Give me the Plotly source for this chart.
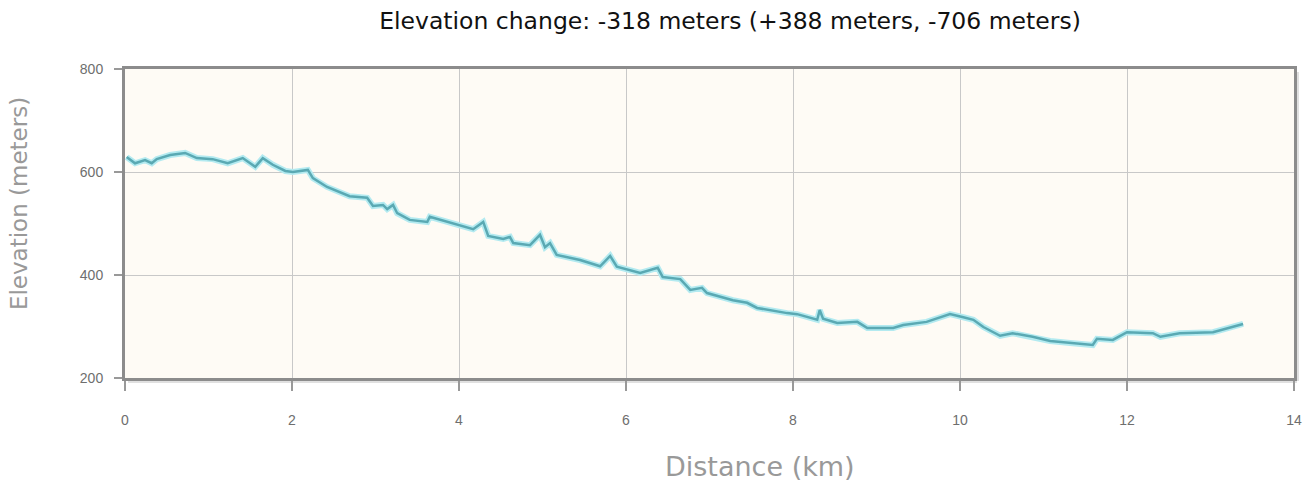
import plotly.graph_objects as go

distance_km = [0.02, 0.12, 0.24, 0.32, 0.38, 0.54, 0.72, 0.86, 1.05, 1.23, 1.41, 1.56, 1.65, 1.77, 1.92,
               2.01, 2.19, 2.25, 2.42, 2.69, 2.90, 2.97, 3.09, 3.14, 3.21, 3.26, 3.41, 3.62, 3.65, 3.99,
               4.17, 4.29, 4.35, 4.53, 4.61, 4.65, 4.85, 4.97, 5.03, 5.09, 5.17, 5.45, 5.69, 5.81, 5.89,
               6.17, 6.38, 6.44, 6.65, 6.77, 6.91, 6.97, 7.13, 7.28, 7.45, 7.57, 7.93, 8.05, 8.29, 8.32,
               8.36, 8.53, 8.77, 8.89, 9.20, 9.32, 9.60, 9.88, 10.04, 10.16, 10.28, 10.48, 10.63, 10.87,
               11.08, 11.32, 11.59, 11.64, 11.83, 12.00, 12.31, 12.40, 12.63, 13.03, 13.27, 13.39]
elevation_m = [629, 617, 623, 617, 625, 633, 637, 627, 625, 617, 627, 610, 627, 614, 602,
               600, 604, 588, 571, 553, 550, 534, 536, 528, 536, 520, 507, 503, 513, 497,
               489, 503, 476, 470, 474, 462, 458, 478, 454, 462, 439, 429, 417, 437, 416,
               404, 414, 396, 392, 371, 375, 365, 357, 351, 346, 336, 326, 324, 313, 332,
               315, 307, 309, 297, 297, 303, 309, 324, 318, 313, 299, 282, 287, 280,
               272, 268, 264, 276, 274, 289, 287, 280, 287, 289, 299, 305]

x_ticks = [0, 2, 4, 6, 8, 10, 12, 14]
y_ticks = [200, 400, 600, 800]

title_text = "Elevation change: -318 meters (+388 meters, -706 meters)"
x_title = "Distance (km)"
y_title = "Elevation (meters)"

fig = go.Figure()
fig.add_trace(go.Scatter(x=distance_km, y=elevation_m, mode="lines",
                         line=dict(color="#b3eaf0", width=6), hoverinfo="skip", showlegend=False))
fig.add_trace(go.Scatter(x=distance_km, y=elevation_m, mode="lines",
                         line=dict(color="#5aa9b3", width=2.5), showlegend=False))

W, H = 1316, 484
ml, mr, mt, mb = 125, 22, 69, 106
pw, ph = W - ml - mr, H - mt - mb

# subtle shadow of the frame (right and bottom)
dx, dy = 3 / pw, 3 / ph
fig.add_shape(type="line", xref="paper", yref="paper", x0=0 + dx, x1=1 + dx, y0=-dy, y1=-dy,
              line=dict(color="rgba(0,0,0,0.12)", width=4), layer="below")
fig.add_shape(type="line", xref="paper", yref="paper", x0=1 + dx, x1=1 + dx, y0=-dy, y1=1 - dy,
              line=dict(color="rgba(0,0,0,0.12)", width=4), layer="below")

fig.add_annotation(text=x_title, xref="paper", yref="paper", x=0.543, y=-0.288,
                   xanchor="center", yanchor="middle", showarrow=False,
                   font=dict(size=27, color="#999999", family="DejaVu Sans, sans-serif"))
fig.add_annotation(text=y_title, xref="paper", yref="paper", x=-0.0907, y=0.566, textangle=-90,
                   xanchor="center", yanchor="middle", showarrow=False,
                   font=dict(size=23, color="#999999", family="DejaVu Sans, sans-serif"))

fig.update_layout(
    width=W, height=H,
    margin=dict(l=ml, r=mr, t=mt, b=mb, autoexpand=False),
    paper_bgcolor="white",
    plot_bgcolor="#fefbf5",
    font=dict(family="Liberation Sans, Arial, sans-serif"),
    title=dict(text=title_text, x=0.5547, xanchor="center", y=0.957, yanchor="middle",
               automargin=False,
               font=dict(size=23.5, color="#111111", family="DejaVu Sans, sans-serif")),
    xaxis=dict(range=[0, 14], tickvals=x_ticks, ticks="outside", ticklen=10, tickwidth=2,
               tickcolor="#999999", showgrid=True, gridcolor="#c8c8c8", gridwidth=1,
               showline=True, linecolor="#8c8c8c", linewidth=3, mirror=True, zeroline=False,
               tickfont=dict(size=14, color="#6e6e6e"), ticklabelstandoff=17, automargin=False),
    yaxis=dict(range=[200, 800], tickvals=y_ticks, ticks="outside", ticklen=8, tickwidth=2,
               tickcolor="#999999", showgrid=True, gridcolor="#c8c8c8", gridwidth=1,
               showline=True, linecolor="#8c8c8c", linewidth=3, mirror=True, zeroline=False,
               tickfont=dict(size=14, color="#6e6e6e"), ticklabelstandoff=8, automargin=False),
)

fig.write_html("out.html", config={"displayModeBar": False},
               post_script="document.body.style.margin='0';")
